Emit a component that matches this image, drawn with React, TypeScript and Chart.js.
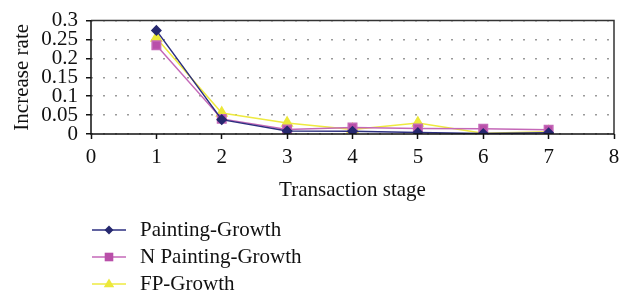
import React, { useEffect, useRef } from "react";
import { Chart, registerables } from "chart.js";

Chart.register(...registerables);

const stages = [1, 2, 3, 4, 5, 6, 7];
const paintingGrowth = [0.274, 0.038, 0.008, 0.007, 0.004, 0.001, 0.003];
const nPaintingGrowth = [0.235, 0.04, 0.012, 0.017, 0.0145, 0.014, 0.011];
const fpGrowth = [0.254, 0.0555, 0.029, 0.012, 0.029, 0.002, 0.006];
const seriesNames = ["Painting-Growth", "N Painting-Growth", "FP-Growth"];
const xTitle = "Transaction stage";
const yTitle = "Increase rate";
const xMin = 0;
const xMax = 8;
const yMin = 0;
const yMax = 0.3;
const yStep = 0.05;

const FONT = "'Liberation Serif', 'Times New Roman', serif";
const FS = 21;
const COLORS = {
  painting: { line: "#2d2f80", point: "#26286f" },
  nPainting: { line: "#c468b8", point: "#b94fa9" },
  fp: { line: "#eeea40", point: "#ece83a" },
};

const legendPlugin = {
  id: "customLegend",
  afterDraw(chart: any) {
    const ctx = chart.ctx;
    const items = chart.data.datasets;
    const rowsY = [230, 257, 284];
    ctx.save();
    items.forEach((ds: any, i: number) => {
      const y = rowsY[i];
      ctx.strokeStyle = ds.borderColor;
      ctx.lineWidth = 1.5;
      ctx.beginPath();
      ctx.moveTo(92, y);
      ctx.lineTo(126, y);
      ctx.stroke();
      ctx.fillStyle = ds.pointBackgroundColor;
      const cx = 109;
      ctx.beginPath();
      if (ds.pointStyle === "rectRot") {
        const r = 4.5;
        ctx.moveTo(cx, y - r);
        ctx.lineTo(cx + r, y);
        ctx.lineTo(cx, y + r);
        ctx.lineTo(cx - r, y);
        ctx.closePath();
      } else if (ds.pointStyle === "rect") {
        const s = 4.3;
        ctx.rect(cx - s, y - s, 2 * s, 2 * s);
      } else {
        const r = 5.5;
        ctx.moveTo(cx, y - r);
        ctx.lineTo(cx + r * 0.95, y + r * 0.6);
        ctx.lineTo(cx - r * 0.95, y + r * 0.6);
        ctx.closePath();
      }
      ctx.fill();
      ctx.fillStyle = "#111";
      ctx.font = `${FS}px ${FONT}`;
      ctx.textBaseline = "middle";
      ctx.textAlign = "left";
      ctx.fillText(ds.label, 140, y);
    });
    ctx.restore();
  },
};

const borderPlugin = {
  id: "plotBorder",
  afterDatasetsDraw(chart: any) {
    const { ctx, chartArea } = chart;
    const { left, right, top, bottom } = chartArea;
    ctx.save();
    ctx.strokeStyle = "#333";
    ctx.lineWidth = 1.5;
    ctx.beginPath();
    ctx.moveTo(left, top);
    ctx.lineTo(right, top);
    ctx.lineTo(right, bottom);
    ctx.stroke();
    ctx.strokeStyle = "#111";
    ctx.beginPath();
    ctx.moveTo(left, top);
    ctx.lineTo(left, bottom);
    ctx.lineTo(right, bottom);
    ctx.stroke();
    ctx.restore();
  },
};

function toPoints(values: number[]) {
  return stages.map((s, i) => ({ x: s, y: values[i] }));
}

export default function App() {
  const canvasRef = useRef<HTMLCanvasElement | null>(null);

  useEffect(() => {
    document.body.style.margin = "0";
    const canvas = canvasRef.current;
    if (!canvas) return;
    const chart = new Chart(canvas, {
      type: "line",
      data: {
        datasets: [
          {
            label: seriesNames[0],
            data: toPoints(paintingGrowth),
            borderColor: COLORS.painting.line,
            backgroundColor: COLORS.painting.point,
            pointBackgroundColor: COLORS.painting.point,
            pointBorderColor: COLORS.painting.point,
            pointStyle: "rectRot",
            pointRadius: 4.5,
            borderWidth: 1.5,
          },
          {
            label: seriesNames[1],
            data: toPoints(nPaintingGrowth),
            borderColor: COLORS.nPainting.line,
            backgroundColor: COLORS.nPainting.point,
            pointBackgroundColor: COLORS.nPainting.point,
            pointBorderColor: COLORS.nPainting.line,
            pointStyle: "rect",
            pointRadius: 6,
            borderWidth: 1.5,
          },
          {
            label: seriesNames[2],
            data: toPoints(fpGrowth),
            borderColor: COLORS.fp.line,
            backgroundColor: COLORS.fp.point,
            pointBackgroundColor: COLORS.fp.point,
            pointBorderColor: COLORS.fp.point,
            pointStyle: "triangle",
            pointRadius: 6,
            borderWidth: 1.5,
          },
        ],
      },
      options: {
        responsive: false,
        animation: false,
        layout: { padding: { left: 0, right: 19, top: 17, bottom: 90 } },
        plugins: {
          legend: { display: false },
          tooltip: { enabled: false },
        },
        scales: {
          x: {
            type: "linear",
            min: xMin,
            max: xMax,
            afterFit(scale: any) {
              scale.height = 72;
            },
            ticks: {
              stepSize: 1,
              autoSkip: false,
              color: "#111",
              font: { family: FONT, size: FS },
              padding: 6,
              maxRotation: 0,
            },
            grid: {
              drawOnChartArea: false,
              drawTicks: true,
              tickLength: 5,
              tickColor: "#111",
              tickWidth: 1.5,
            },
            border: { display: false },
            title: {
              display: true,
              text: xTitle,
              color: "#111",
              font: { family: FONT, size: FS },
              padding: { top: 0, bottom: 3 },
            },
          },
          y: {
            type: "linear",
            min: yMin,
            max: yMax,
            afterFit(scale: any) {
              scale.width = 91;
            },
            ticks: {
              stepSize: yStep,
              autoSkip: false,
              color: "#111",
              font: { family: FONT, size: FS },
              padding: 8,
              callback: (v: any) => String(Number(Number(v).toFixed(2))),
            },
            grid: {
              color: "#9a9a9a",
              lineWidth: 1.5,
              tickLength: 5,
              tickColor: "#111",
              tickWidth: 1.5,
              tickBorderDash: [],
            },
            border: { display: false, dash: [2, 10] },
            title: {
              display: true,
              text: yTitle,
              color: "#111",
              font: { family: FONT, size: FS },
              padding: { top: 10, bottom: 0 },
            },
          },
        },
      },
      plugins: [borderPlugin, legendPlugin],
    } as any);
    return () => chart.destroy();
  }, []);

  return (
    <div style={{ width: 633, height: 296 }}>
      <canvas ref={canvasRef} width={633} height={296} />
    </div>
  );
}
